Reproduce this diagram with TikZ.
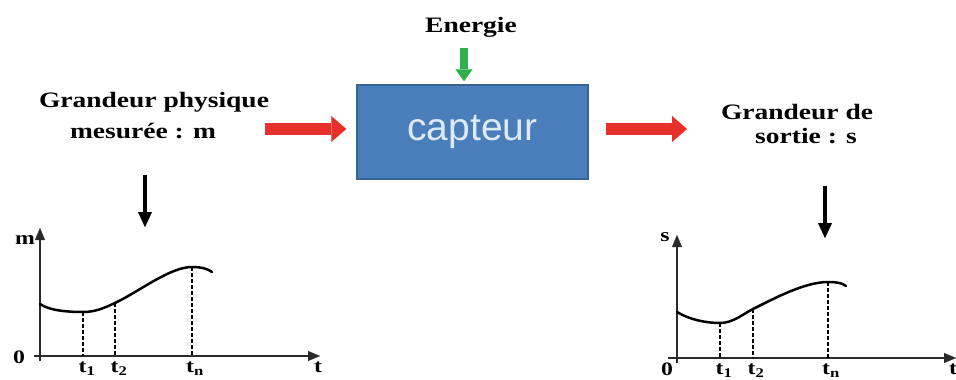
\documentclass[tikz,border=0pt]{standalone}
\usepackage{fontspec}
\setmainfont{Liberation Serif}
\newfontfamily\lbl[FakeStretch=1.25]{Liberation Serif}
\newfontfamily\capfont{Liberation Sans}
\usetikzlibrary{arrows.meta}
\definecolor{boxblue}{HTML}{4A7EBB}
\definecolor{boxedge}{HTML}{3A6494}
\definecolor{arrred}{HTML}{E8302A}
\definecolor{arrgreen}{HTML}{2EB04A}
\definecolor{captext}{HTML}{DDE9F5}
\definecolor{axisgray}{HTML}{2A2A2A}
\tikzset{
  lab/.style={font=\lbl\bfseries\fontsize{22}{26}\selectfont, inner sep=0pt, anchor=base},
  glab/.style={font=\lbl\bfseries\fontsize{19}{22}\selectfont, inner sep=0pt},
  capbox/.style={draw=boxedge, line width=1.5pt, fill=boxblue, text=captext,
    font=\capfont\fontsize{39}{44}\selectfont, minimum width=231pt, minimum height=94pt, inner sep=0pt},
  redarr/.style={arrred, line width=12pt, -{Triangle[width=26pt,length=15pt,line width=0.1pt]}},
  greenarr/.style={arrgreen, line width=8pt, -{Triangle[width=17pt,length=12pt,line width=0.1pt]}},
  blackarr/.style={black, line width=4.5pt, -{Triangle[width=14pt,length=15pt,line width=0.1pt]}},
  axisline/.style={axisgray, line width=1.6pt, -{Triangle[width=10pt,length=12pt,line width=0.1pt]}},
  curve/.style={black, line width=2.5pt, line cap=round},
  dline/.style={black, line width=1.6pt, dash pattern=on 4pt off 2pt}
}
\begin{document}
\begin{tikzpicture}[x=1pt,y=-1pt]
\useasboundingbox (0,0) rectangle (956,380);

% central box
\node[capbox] (cap) at (472.5,132) {capteur};

% labels
\node[lab] (en) at (471,32) {Energie};
\node[lab] (gp1) at (154,107) {Grandeur physique};
\node[lab] (gp2) at (143,138) {mesurée : m};
\node[lab] (gs1) at (797,119) {Grandeur de};
\node[lab] (gs2) at (806,143) {sortie : s};

% block arrows
\coordinate (ltail) at (265,129);
\coordinate (rhead) at (687,129);
\coordinate (etail) at (464,48);
\draw[redarr] (ltail) -- ([xshift=-10pt,yshift=3pt]cap.west);
\draw[redarr] ([xshift=17pt,yshift=3pt]cap.east) -- (rhead);
\draw[greenarr] (etail) -- ([xshift=-8.5pt,yshift=3pt]cap.north);

% black arrows
\coordinate (lb1) at (145,175);
\coordinate (lb2) at (145,227);
\coordinate (rb1) at (825,186);
\coordinate (rb2) at (825,238);
\draw[blackarr] (lb1) -- (lb2);
\draw[blackarr] (rb1) -- (rb2);

% left graph
\coordinate (lytip) at (40,228);
\coordinate (lxtip) at (320,356);
\draw[axisline] (40,361) -- (lytip);
\draw[axisline] (34,356) -- (lxtip);
\draw[curve] (40,304) .. controls (50,311) and (70,312) .. (83,312)
  .. controls (96,312) and (105,307.5) .. (115,303)
  .. controls (140,291) and (170,267) .. (192,267)
  .. controls (202,267) and (208,269) .. (212,272);
\draw[dline] (83,312) -- (83,356);
\draw[dline] (115,303) -- (115,356);
\draw[dline] (192,267) -- (192,356);
\node[glab] (lm) at (25,240) {m};
\node[glab] (l0) at (19,357) {0};
\node[glab, anchor=north] (lt1) at (87,362) {t\textsubscript{1}};
\node[glab, anchor=north] (lt2) at (119,362) {t\textsubscript{2}};
\node[glab, anchor=north] (ltn) at (195,362) {t\textsubscript{n}};
\node[glab, anchor=north] (lt) at (318,362) {t};

% right graph
\coordinate (rytip) at (677,235);
\coordinate (rxtip) at (956,358);
\draw[axisline] (677,363) -- (rytip);
\draw[axisline] (668,358) -- (rxtip);
\draw[curve] (677,312) .. controls (690,320) and (707,323) .. (720,323)
  .. controls (733,323) and (743,314) .. (753,309)
  .. controls (775,298) and (805,282) .. (828,282)
  .. controls (837,282) and (842,283) .. (846,286);
\draw[dline] (720,323) -- (720,358);
\draw[dline] (753,309) -- (753,358);
\draw[dline] (828,282) -- (828,358);
\node[glab] (rs) at (665,237) {s};
\node[glab] (r0) at (667,369) {0};
\node[glab, anchor=north] (rt1) at (724,364) {t\textsubscript{1}};
\node[glab, anchor=north] (rt2) at (756,364) {t\textsubscript{2}};
\node[glab, anchor=north] (rtn) at (831,364) {t\textsubscript{n}};
\node[glab, anchor=north west] (rt) at (949,364) {t};
\end{tikzpicture}
\end{document}
